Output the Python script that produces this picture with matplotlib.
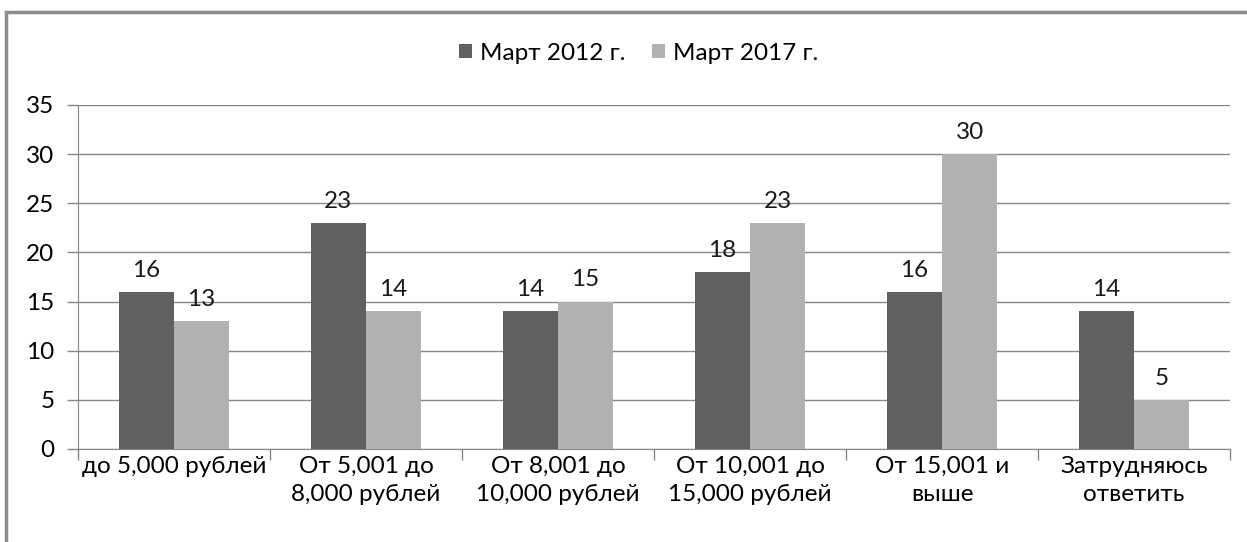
import matplotlib.pyplot as plt
import numpy as np
from matplotlib.patches import Rectangle

# income groups and shares (%)
categories = ['до 5,000 рублей', 'От 5,001 до\n8,000 рублей', 'От 8,001 до\n10,000 рублей',
              'От 10,001 до\n15,000 рублей', 'От 15,001 и\nвыше', 'Затрудняюсь\nответить']
march_2012 = [16, 23, 14, 18, 16, 14]
march_2017 = [13, 14, 15, 23, 30, 5]
series_names = ['Март 2012 г.', 'Март 2017 г.']

plt.rcParams['font.family'] = ['Lato', 'DejaVu Sans']
fs = 17.5

fig = plt.figure(figsize=(12.47, 5.42), dpi=100)
ax = fig.add_axes([0.0625, 0.1716, 0.924, 0.6347])

# outer frame of the chart (cut by the page edges)
fig.patches.append(Rectangle((0.005, -0.1), 1.2, 1.077, transform=fig.transFigure,
                             fill=False, edgecolor='#8c8c8c', linewidth=2.5))

x = np.arange(len(categories))
w = 0.287
dark = '#606060'
light = '#b2b2b2'
b1 = ax.bar(x - w / 2, march_2012, w, color=dark, label=series_names[0], zorder=3)
b2 = ax.bar(x + w / 2, march_2017, w, color=light, label=series_names[1], zorder=3)

for bars in (b1, b2):
    for rect in bars:
        h = rect.get_height()
        ax.annotate(f'{h:g}', (rect.get_x() + rect.get_width() / 2, h),
                    xytext=(0, 8), textcoords='offset points',
                    ha='center', va='bottom', fontsize=fs, color='#1a1a1a')

ax.set_xlim(-0.5, len(categories) - 0.5)
ax.set_ylim(0, 35)
ax.set_yticks(range(0, 36, 5))
ax.yaxis.grid(True, color='#868686', linewidth=1, zorder=0)
ax.set_axisbelow(True)

ax.set_xticks(x)
ax.set_xticklabels(categories, fontsize=fs, linespacing=1.4)
ax.tick_params(axis='x', length=0, pad=5)
ax.set_xticks(np.arange(-0.5, len(categories)), minor=True)
ax.tick_params(axis='x', which='minor', length=8, color='#868686', width=1)
ax.tick_params(axis='y', labelsize=fs, length=8, color='#868686', width=1, pad=9)

for side in ('top', 'right'):
    ax.spines[side].set_visible(False)
for side in ('left', 'bottom'):
    ax.spines[side].set_color('#868686')

fig.legend(loc='center', bbox_to_anchor=(0.512, 0.902), ncol=2, frameon=False,
           fontsize=fs, handlelength=0.55, handleheight=0.55, handletextpad=0.3,
           columnspacing=1.1)

fig.savefig('out.png', dpi=100)
